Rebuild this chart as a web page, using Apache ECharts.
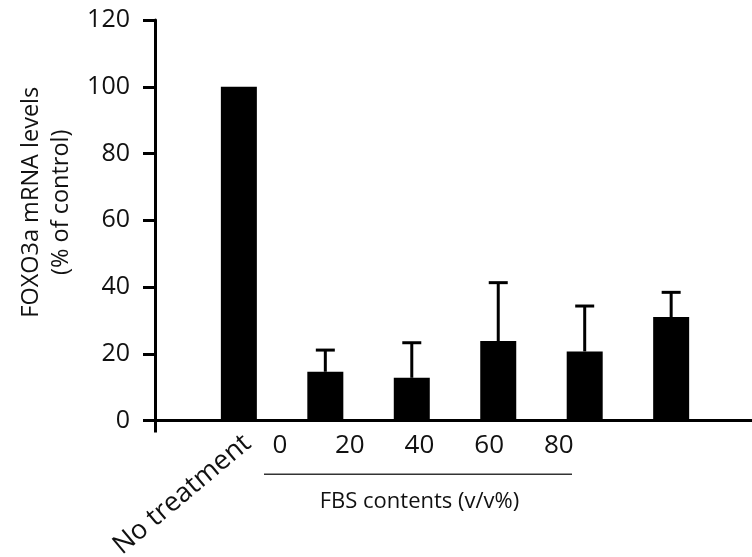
<!DOCTYPE html>
<html><head><meta charset="utf-8">
<script src="https://cdn.jsdelivr.net/npm/echarts@6/dist/echarts.min.js"></script>
<style>html,body{margin:0;padding:0;background:#fff}#c{width:752px;height:557px}</style>
</head><body><div id="c"></div>
<script>
// ---- data ----
const groups = ['No treatment', '0', '20', '40', '60', '80'];
const xPos = [1, 2, 3, 4, 5, 6];
const means = [100, 14.6, 12.8, 23.8, 20.7, 31.0];
const errUpper = [null, 21.1, 23.3, 41.3, 34.3, 38.4];
const fbsLabels = ['0', '20', '40', '60', '80'];
const yMin = 0, yMax = 120, yStep = 20;
const yName = 'FOXO3a mRNA levels\n(% of control)';
const fbsName = 'FBS contents (v/v%)';

const FONT = '"Open Sans"';
const TXT = '#111';
const FW = 500;

const barData = xPos.map((x, i) => [x, means[i]]);
const errData = xPos.map((x, i) => errUpper[i] == null ? null : [x, means[i], errUpper[i]]).filter(Boolean);

const chart = echarts.init(document.getElementById('c'), null, {renderer: 'canvas'});
chart.setOption({
  animation: false,
  backgroundColor: '#fff',
  textStyle: {fontFamily: FONT, color: TXT},
  grid: [
    {left: 155, right: 0, top: 20, bottom: 136.5, containLabel: false, outerBoundsMode: 'none'},
    {left: 245.2, width: 348.5, top: 20, bottom: 136.5, containLabel: false, outerBoundsMode: 'none'}
  ],
  xAxis: [
    {
      type: 'value', gridIndex: 0, min: 0.03, max: 6.935,
      splitLine: {show: false},
      axisLine: {show: true, onZero: false, lineStyle: {color: '#000', width: 3}},
      axisTick: {show: true, customValues: [0.03], length: 12, lineStyle: {color: '#000', width: 3}},
      axisLabel: {
        customValues: [1], rotate: 40, margin: 9, verticalAlign: 'top',
        fontFamily: FONT, fontSize: 27, fontWeight: FW, color: TXT,
        formatter: v => groups[xPos.indexOf(Math.round(v))] || ''
      }
    },
    {
      type: 'category', gridIndex: 1, data: fbsLabels, boundaryGap: true,
      axisLine: {show: false}, axisTick: {show: false}, splitLine: {show: false},
      axisLabel: {fontFamily: FONT, fontSize: 26, fontWeight: FW, color: TXT, margin: 12},
      name: fbsName, nameLocation: 'middle', nameGap: 70,
      nameTextStyle: {fontFamily: FONT, fontSize: 22, fontWeight: FW, color: TXT}
    }
  ],
  yAxis: [
    {
      type: 'value', gridIndex: 0, min: yMin, max: yMax, interval: yStep,
      splitLine: {show: false},
      axisLine: {show: true, lineStyle: {color: '#000', width: 3}},
      axisTick: {show: true, inside: false, length: 12, lineStyle: {color: '#000', width: 3}},
      axisLabel: {fontFamily: FONT, fontSize: 25, fontWeight: FW, color: TXT, margin: 25},
      name: yName, nameLocation: 'middle', nameGap: 76,
      nameTextStyle: {fontFamily: FONT, fontSize: 23.5, fontWeight: FW, color: TXT, lineHeight: 30, padding: [0, 0, 0, 36]}
    },
    {type: 'value', gridIndex: 1, min: yMin, max: yMax, show: false}
  ],
  graphic: [
    {type: 'line', shape: {x1: 264, y1: 474.3, x2: 572, y2: 474.3}, style: {stroke: '#333', lineWidth: 1.5}}
  ],
  series: [
    {
      type: 'bar', xAxisIndex: 0, yAxisIndex: 0, data: barData, barWidth: 36,
      itemStyle: {color: '#000'}
    },
    {
      type: 'custom', xAxisIndex: 0, yAxisIndex: 0, data: errData, z: 3,
      encode: {x: 0, y: [1, 2]},
      renderItem: function (params, api) {
        const x = api.value(0), lo = api.value(1), hi = api.value(2);
        const p0 = api.coord([x, lo]);
        const p1 = api.coord([x, hi]);
        const cap = 9.5;
        return {
          type: 'group', children: [
            {type: 'line', shape: {x1: p0[0], y1: p0[1], x2: p1[0], y2: p1[1]}, style: {stroke: '#000', lineWidth: 3}},
            {type: 'line', shape: {x1: p1[0] - cap, y1: p1[1], x2: p1[0] + cap, y2: p1[1]}, style: {stroke: '#000', lineWidth: 3}}
          ]
        };
      }
    }
  ]
});
</script></body></html>
